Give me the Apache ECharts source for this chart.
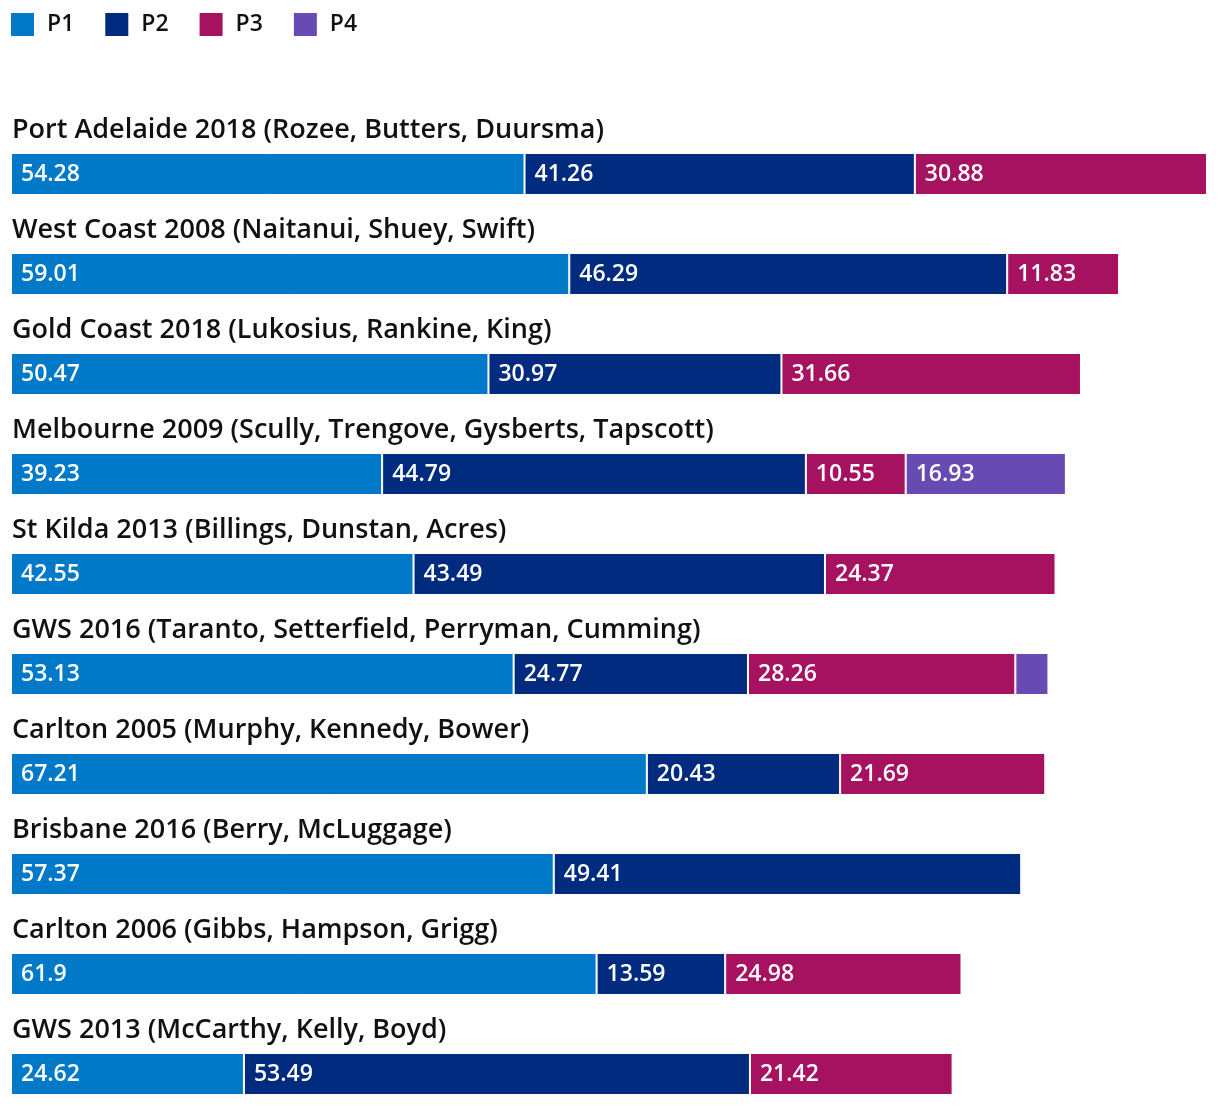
<!DOCTYPE html>
<html>
<head>
<meta charset="utf-8">
<script src="https://cdn.jsdelivr.net/npm/echarts@6/dist/echarts.min.js"></script>
<style>
html,body{margin:0;padding:0;background:#fff;}
#chart{width:1220px;height:1106px;}
</style>
</head>
<body>
<div id="chart"></div>
<script>
const categories = [
  'Port Adelaide 2018 (Rozee, Butters, Duursma)',
  'West Coast 2008 (Naitanui, Shuey, Swift)',
  'Gold Coast 2018 (Lukosius, Rankine, King)',
  'Melbourne 2009 (Scully, Trengove, Gysberts, Tapscott)',
  'St Kilda 2013 (Billings, Dunstan, Acres)',
  'GWS 2016 (Taranto, Setterfield, Perryman, Cumming)',
  'Carlton 2005 (Murphy, Kennedy, Bower)',
  'Brisbane 2016 (Berry, McLuggage)',
  'Carlton 2006 (Gibbs, Hampson, Grigg)',
  'GWS 2013 (McCarthy, Kelly, Boyd)'
];
const seriesNames = ['P1', 'P2', 'P3', 'P4'];
const p1 = [54.28, 59.01, 50.47, 39.23, 42.55, 53.13, 67.21, 57.37, 61.9, 24.62];
const p2 = [41.26, 46.29, 30.97, 44.79, 43.49, 24.77, 20.43, 49.41, 13.59, 53.49];
const p3 = [30.88, 11.83, 31.66, 10.55, 24.37, 28.26, 21.69, null, 24.98, 21.42];
const p4 = [null, null, null, 16.93, null, 3.5, null, null, null, null];
const colors = ['#0079C9', '#002B7F', '#A6125F', '#684BB2'];

const allSeries = [p1, p2, p3, p4];
const totals = categories.map((c, i) => allSeries.reduce((s, arr) => s + (arr[i] || 0), 0));
const xMax = Math.max(...totals);

const chart = echarts.init(document.getElementById('chart'), null, {renderer: 'canvas'});
const font = '"Open Sans", Roboto, sans-serif';

chart.setOption({
  animation: false,
  color: colors,
  legend: {
    left: 9, top: 11, padding: 0,
    icon: 'rect',
    itemWidth: 25, itemHeight: 25,
    itemGap: 29,
    textStyle: {fontFamily: font, fontSize: 23, fontWeight: 600, color: '#111', width: 42, padding: [0,0,0,7]},
    data: seriesNames
  },
  grid: {left: 11, top: 174, width: 1196, height: 900, containLabel: false},
  xAxis: {type: 'value', min: 0, max: xMax, show: false},
  yAxis: {
    type: 'category', inverse: true, data: categories, boundaryGap: false,
    axisLine: {show: false}, axisTick: {show: false}, splitLine: {show: false},
    axisLabel: {
      inside: true, margin: 1, align: 'left', verticalAlign: 'bottom',
      padding: [0, 0, 30, 0],
      fontFamily: font, fontSize: 27, fontWeight: 600, color: '#111'
    }
  },
  series: allSeries.map((arr, k) => ({
    name: seriesNames[k], type: 'bar', stack: 'total', barWidth: 42,
    data: arr.map(v => v == null ? '-' : v),
    itemStyle: {color: colors[k], borderColor: '#fff', borderWidth: 1},
    label: {
      show: true, position: 'insideLeft', distance: 10,
      padding: [4, 0, 0, 0],
      color: '#fff', fontFamily: font, fontSize: 23, fontWeight: 600,
      formatter: p => (p.value >= 5 ? String(p.value) : '')
    }
  }))
});
</script>
</body>
</html>
